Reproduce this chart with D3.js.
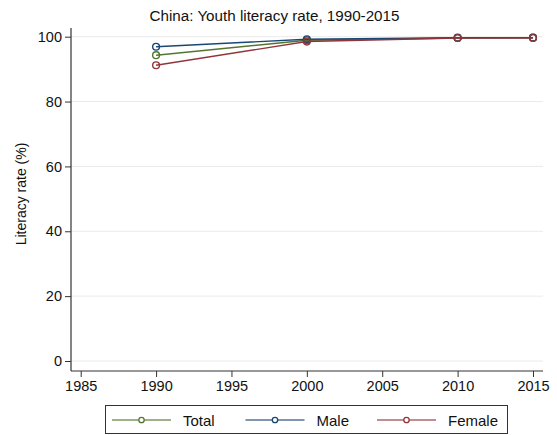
<!DOCTYPE html>
<html>
<head>
<meta charset="utf-8">
<script src="https://cdn.jsdelivr.net/npm/d3@7"></script>
<style>
  html, body { margin: 0; padding: 0; background: #fff; }
  svg { display: block; font-family: "Liberation Sans", Arial, sans-serif; }
</style>
</head>
<body>
<svg id="chart" width="557" height="435"></svg>
<script>
const years = [1990, 2000, 2010, 2015];
const totalValues = [94.3, 98.9, 99.6, 99.7];
const maleValues = [96.9, 99.2, 99.7, 99.7];
const femaleValues = [91.2, 98.5, 99.6, 99.6];
const seriesNames = ["Total", "Male", "Female"];
const xTicks = [1985, 1990, 1995, 2000, 2005, 2010, 2015];
const yTicks = [0, 20, 40, 60, 80, 100];
const titleText = "China: Youth literacy rate, 1990-2015";
const yTitleText = "Literacy rate (%)";

const colors = ["#55752f", "#1a476f", "#90353b"];
const seriesValues = [totalValues, maleValues, femaleValues];

const svg = d3.select("#chart");
const plot = { left: 71, right: 543, top: 28, bottom: 371 };

const x = d3.scaleLinear().domain([1985, 2015]).range([80.7, 533]);
const y = d3.scaleLinear().domain([0, 100]).range([361, 36.7]);

// gridlines
svg.append("g").selectAll("line").data(yTicks).join("line")
  .attr("x1", plot.left).attr("x2", plot.right)
  .attr("y1", d => y(d)).attr("y2", d => y(d))
  .attr("stroke", "#eaeaea").attr("stroke-width", 1);

// y axis
const yAxis = svg.append("g").attr("transform", `translate(${plot.left},0)`)
  .call(d3.axisLeft(y).tickValues(yTicks).tickSize(6).tickPadding(3).tickFormat(d3.format("d")));
yAxis.select(".domain").remove();
yAxis.selectAll(".tick line").attr("stroke", "#333");
yAxis.selectAll("text").attr("font-size", "14.5px").attr("fill", "#111").attr("font-family", "Liberation Sans, Arial, sans-serif");
svg.append("line").attr("x1", plot.left).attr("x2", plot.left)
  .attr("y1", plot.top).attr("y2", plot.bottom).attr("stroke", "#333").attr("stroke-width", 1.2);

// x axis
const xAxis = svg.append("g").attr("transform", `translate(0,${plot.bottom})`)
  .call(d3.axisBottom(x).tickValues(xTicks).tickSize(6).tickPadding(4).tickFormat(d3.format("d")));
xAxis.select(".domain").remove();
xAxis.selectAll(".tick line").attr("stroke", "#333");
xAxis.selectAll("text").attr("font-size", "14.5px").attr("fill", "#111").attr("font-family", "Liberation Sans, Arial, sans-serif");
svg.append("line").attr("x1", plot.left).attr("x2", plot.right)
  .attr("y1", plot.bottom).attr("y2", plot.bottom).attr("stroke", "#333").attr("stroke-width", 1.2);

// series
const line = d3.line().x((d, i) => x(years[i])).y(d => y(d));
seriesValues.forEach((vals, si) => {
  const g = svg.append("g");
  g.append("path").datum(vals).attr("d", line)
    .attr("fill", "none").attr("stroke", colors[si]).attr("stroke-width", 1.4);
  g.selectAll("circle").data(vals).join("circle")
    .attr("cx", (d, i) => x(years[i])).attr("cy", d => y(d)).attr("r", 3.4)
    .attr("fill", "none").attr("stroke", colors[si]).attr("stroke-width", 1.4);
});

// title
svg.append("text").attr("x", 274.5).attr("y", 21).attr("text-anchor", "middle")
  .attr("font-size", "15.2px").attr("fill", "#111").text(titleText);

// y title
svg.append("text").attr("transform", "translate(26,194) rotate(-90)")
  .attr("text-anchor", "middle").attr("font-size", "14px").attr("fill", "#111").text(yTitleText);

// legend
const leg = svg.append("g");
leg.append("rect").attr("x", 105.5).attr("y", 405.5).attr("width", 402).attr("height", 28)
  .attr("fill", "#fff").attr("stroke", "#333").attr("stroke-width", 1);
const legX = [112, 245.5, 377];
seriesNames.forEach((name, i) => {
  const lx = legX[i];
  leg.append("line").attr("x1", lx).attr("x2", lx + 59).attr("y1", 420).attr("y2", 420)
    .attr("stroke", colors[i]).attr("stroke-width", 1.4).attr("opacity", 0.75);
  leg.append("circle").attr("cx", lx + 29.5).attr("cy", 420).attr("r", 2.7)
    .attr("fill", "#fff").attr("stroke", colors[i]).attr("stroke-width", 1.3);
  leg.append("text").attr("x", lx + 71).attr("y", 425.5)
    .attr("font-size", "15px").attr("fill", "#111").text(name);
});
</script>
</body>
</html>
